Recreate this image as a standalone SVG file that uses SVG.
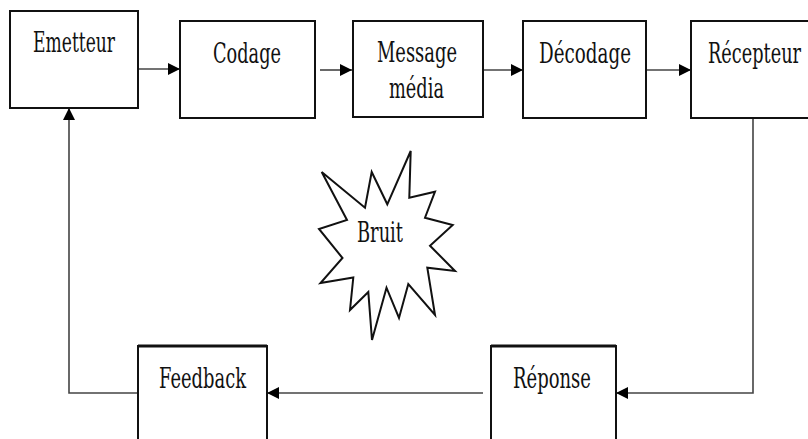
<svg xmlns="http://www.w3.org/2000/svg" width="808" height="439" viewBox="0 0 808 439">
<style>
.box{fill:#fff;stroke:#111;stroke-width:2}
.con{fill:none;stroke:#444;stroke-width:1.6}
</style>
<defs>
<marker id="ah" markerUnits="userSpaceOnUse" markerWidth="12" markerHeight="12" refX="12" refY="6" orient="auto">
<path d="M0,0 L12,6 L0,12 z" fill="#000"/>
</marker>
</defs>
<rect width="808" height="439" fill="#fff"/>
<g id="connectors">
<line class="con" x1="138" y1="69" x2="180" y2="69" marker-end="url(#ah)"/>
<line class="con" x1="320" y1="70" x2="352" y2="70" marker-end="url(#ah)"/>
<line class="con" x1="483" y1="70" x2="523" y2="70" marker-end="url(#ah)"/>
<line class="con" x1="646" y1="70" x2="691" y2="70" marker-end="url(#ah)"/>
<polyline class="con" points="753,118 753,393 616,393" marker-end="url(#ah)"/>
<line class="con" x1="483" y1="393" x2="267" y2="393" marker-end="url(#ah)"/>
<polyline class="con" points="138,393 69,393 69,108" marker-end="url(#ah)"/>
</g>
<g font-family="DejaVu Serif, Liberation Serif, serif" font-size="27" fill="#111">
<g id="emetteur"><rect class="box" x="10" y="11" width="128" height="97"/><text x="33" y="52" textLength="82" lengthAdjust="spacingAndGlyphs">Emetteur</text></g>
<g id="codage"><rect class="box" x="180" y="21" width="135" height="97"/><text x="213" y="63" textLength="68" lengthAdjust="spacingAndGlyphs">Codage</text></g>
<g id="message"><rect class="box" x="353" y="21" width="130" height="96"/><text x="377" y="62" textLength="80" lengthAdjust="spacingAndGlyphs">Message</text><text x="389" y="98" textLength="55" lengthAdjust="spacingAndGlyphs">média</text></g>
<g id="decodage"><rect class="box" x="523" y="21" width="123" height="97"/><text x="539" y="63" textLength="92" lengthAdjust="spacingAndGlyphs">Décodage</text></g>
<g id="recepteur"><rect class="box" x="691" y="21" width="130" height="97"/><text x="708" y="63" textLength="93" lengthAdjust="spacingAndGlyphs">Récepteur</text></g>
<g id="reponse"><rect class="box" x="491" y="346" width="125" height="110"/><line x1="491" y1="346" x2="616" y2="346" stroke="#111" stroke-width="3"/><text x="513" y="388" textLength="78" lengthAdjust="spacingAndGlyphs">Réponse</text></g>
<g id="feedback"><rect class="box" x="138" y="346" width="129" height="110"/><line x1="138" y1="346" x2="267" y2="346" stroke="#111" stroke-width="3"/><text x="159" y="388" textLength="87" lengthAdjust="spacingAndGlyphs">Feedback</text></g>
<g id="bruit">
<polygon class="box" points="321.7,172 365,207.7 371.7,172 387.3,204.3 410.7,151 409.3,197.7 435,191.7 425,217.7 452.7,225 430,245.7 455,271 427.3,267.7 435,315 408.3,284 399,318 386.5,287.7 372,340 368.3,292 350,310 353.3,277.5 320.5,283 342.5,258 319,229 347,220"/>
<text x="357" y="242" textLength="46" lengthAdjust="spacingAndGlyphs">Bruit</text>
</g>
</g>
</svg>
